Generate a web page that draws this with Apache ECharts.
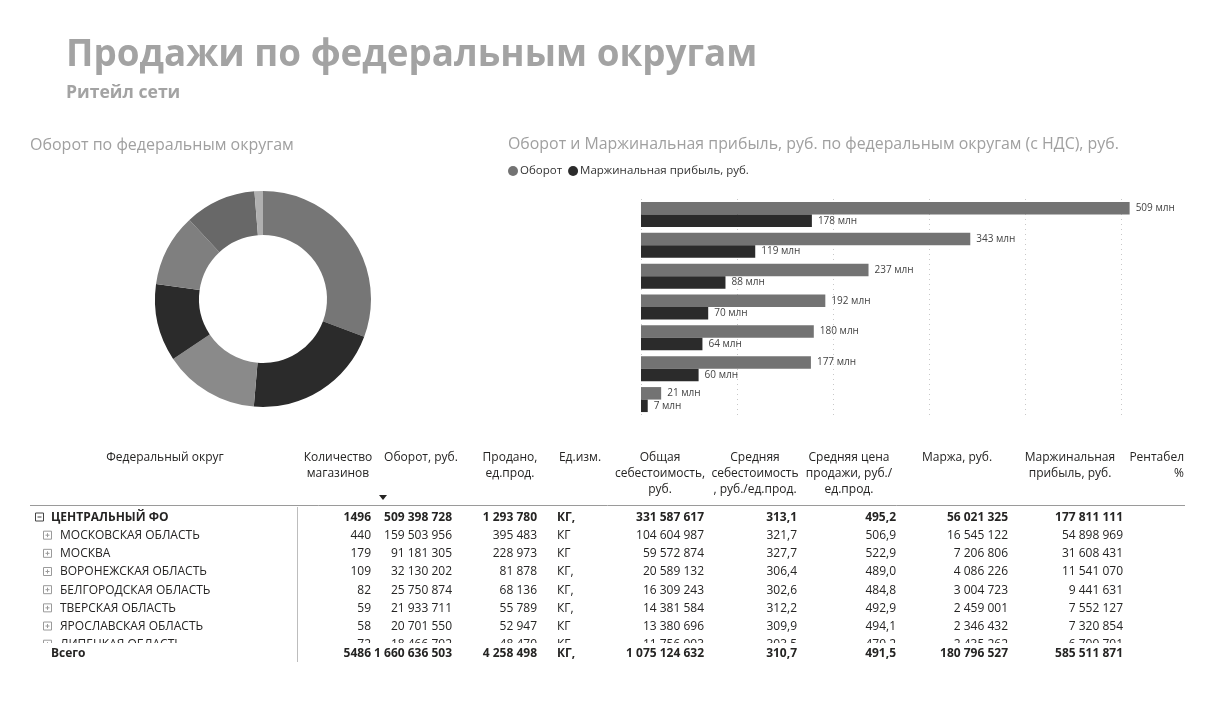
<!DOCTYPE html>
<html><head><meta charset="utf-8">
<script src="https://cdn.jsdelivr.net/npm/echarts@6/dist/echarts.min.js"></script>
<style>html,body{margin:0;padding:0;background:#fff;}#c{width:1221px;height:718px;}</style>
</head><body><div id="c"></div>
<script>
// ---------- data ----------
const districts = ['Центральный ФО','Приволжский ФО','Северо-Западный ФО','Южный ФО','Уральский ФО','Сибирский ФО','Северо-Кавказский ФО'];
const turnoverMln = [509, 343, 237, 192, 180, 177, 21];
const marginMln = [178, 119, 88, 70, 64, 60, 7];
const seriesNames = ['Оборот', 'Маржинальная прибыль, руб.'];
const xTicks = [0, 100, 200, 300, 400, 500];

const tableHeaders = [
  ['Федеральный округ'],
  ['Количество', 'магазинов'],
  ['Оборот, руб.'],
  ['Продано,', 'ед.прод.'],
  ['Ед.изм.'],
  ['Общая', 'себестоимость,', 'руб.'],
  ['Средняя', 'себестоимость', ', руб./ед.прод.'],
  ['Средняя цена', 'продажи, руб./', 'ед.прод.'],
  ['Маржа, руб.'],
  ['Маржинальная', 'прибыль, руб.'],
  ['Рентабел', '%']
];
const rowNames = ['ЦЕНТРАЛЬНЫЙ ФО','МОСКОВСКАЯ ОБЛАСТЬ','МОСКВА','ВОРОНЕЖСКАЯ ОБЛАСТЬ','БЕЛГОРОДСКАЯ ОБЛАСТЬ','ТВЕРСКАЯ ОБЛАСТЬ','ЯРОСЛАВСКАЯ ОБЛАСТЬ','ЛИПЕЦКАЯ ОБЛАСТЬ'];
const storeCounts = [1496, 440, 179, 109, 82, 59, 58, 72];
const turnoverRub = [509398728, 159503956, 91181305, 32130202, 25750874, 21933711, 20701550, 18466792];
const soldUnits = [1293780, 395483, 228973, 81878, 68136, 55789, 52947, 48479];
const unitNames = ['КГ,', 'КГ', 'КГ', 'КГ,', 'КГ,', 'КГ,', 'КГ', 'КГ'];
const totalCost = [331587617, 104604987, 59572874, 20589132, 16309243, 14381584, 13380696, 11756993];
const avgCost = [313.1, 321.7, 327.7, 306.4, 302.6, 312.2, 309.9, 303.5];
const avgPrice = [495.2, 506.9, 522.9, 489.0, 484.8, 492.9, 494.1, 479.2];
const margaRub = [56021325, 16545122, 7206806, 4086226, 3004723, 2459001, 2346432, 2435262];
const marginProfitRub = [177811111, 54898969, 31608431, 11541070, 9441631, 7552127, 7320854, 6709791];
const totalLabel = 'Всего';
const totals = [5486, 1660636503, 4258498, 'КГ,', 1075124632, 310.7, 491.5, 180796527, 585511871];

// ---------- style ----------
const FONT = '"Open Sans", "Noto Sans", sans-serif';
const GRAY = '#737373', DARK = '#2b2b2b';
const pieColors = ['#767676', '#2b2b2b', '#8a8a8a', '#2b2b2b', '#7f7f7f', '#686868', '#b0b0b0'];
const TXT = '#252423';

function fmtInt(n) { return n < 10000 ? String(n) : String(n).replace(/\B(?=(\d{3})+(?!\d))/g, ' '); }
function fmtDec(n) { return n.toFixed(1).replace('.', ','); }

// ---------- table layout ----------
const headerX = [165, 338, 421, 510, 580, 660, 755, 849, 957, 1070, 1184];
const headerAlign = ['center','center','center','center','center','center','center','center','center','center','right'];
const headerY = [458, 474, 490];
const colRight = [371, 452, 537, null, 704, 797, 896, 1008, 1123];
const unitLeft = 557;
const rowY0 = 517.5, rowH = 18.17;

const g = [];
function t(x, y, text, align, bold, z, size) {
  g.push({ type: 'text', x: x, y: y, z: z || 5, silent: true,
    style: { text: text, fill: TXT, font: (bold ? 'bold ' : '') + (size || 12) + 'px ' + FONT,
      textAlign: align, textVerticalAlign: 'middle' } });
}
tableHeaders.forEach((lines, i) => {
  lines.forEach((ln, j) => t(headerX[i], headerY[j], ln, headerAlign[i], false));
});
// sort arrow
g.push({ type: 'polygon', z: 5, silent: true, shape: { points: [[379, 495], [387, 495], [383, 500]] }, style: { fill: '#252423' } });
// header line
g.push({ type: 'line', z: 6, silent: true, shape: { x1: 30, y1: 505.5, x2: 1185, y2: 505.5 }, style: { stroke: '#9a9a9a', lineWidth: 1 } });

function rowCells(i, y, bold, z) {
  t(colRight[0], y, fmtInt(storeCounts[i]), 'right', bold, z);
  t(colRight[1], y, fmtInt(turnoverRub[i]), 'right', bold, z);
  t(colRight[2], y, fmtInt(soldUnits[i]), 'right', bold, z);
  t(unitLeft, y, unitNames[i], 'left', bold, z);
  t(colRight[4], y, fmtInt(totalCost[i]), 'right', bold, z);
  t(colRight[5], y, fmtDec(avgCost[i]), 'right', bold, z);
  t(colRight[6], y, fmtDec(avgPrice[i]), 'right', bold, z);
  t(colRight[7], y, fmtInt(margaRub[i]), 'right', bold, z);
  t(colRight[8], y, fmtInt(marginProfitRub[i]), 'right', bold, z);
}
function expander(x, y, minus, z) {
  const c = minus ? '#444' : '#9a9a9a';
  g.push({ type: 'rect', z: z, silent: true, shape: { x: x + 0.5, y: y - 4.5, width: 8, height: 8 }, style: { fill: 'none', stroke: c, lineWidth: 1 } });
  g.push({ type: 'line', z: z, silent: true, shape: { x1: x + 2.5, y1: y - 0.5, x2: x + 6.5, y2: y - 0.5 }, style: { stroke: c, lineWidth: 1 } });
  if (!minus) g.push({ type: 'line', z: z, silent: true, shape: { x1: x + 4.5, y1: y - 2.5, x2: x + 4.5, y2: y + 1.5 }, style: { stroke: c, lineWidth: 1 } });
}
rowNames.forEach((name, i) => {
  const y = rowY0 + i * rowH;
  if (i === 0) { expander(35, y, true, 5); t(51, y, name, 'left', true); }
  else { expander(43, y, false, 5); t(60, y, name, 'left', false); }
  rowCells(i, y, i === 0, 5);
});
// clip of scrolled body + totals row
g.push({ type: 'rect', z: 10, silent: true, shape: { x: 20, y: 643, width: 1180, height: 25 }, style: { fill: '#fff' } });
const ty = 654;
t(51, ty, totalLabel, 'left', true, 11);
totals.forEach((v, k) => {
  if (typeof v === 'string') { t(unitLeft, ty, v, 'left', true, 11); return; }
  const s = (k === 5 || k === 6) ? fmtDec(v) : fmtInt(v);
  t(colRight[k], ty, s, 'right', true, 11);
});
g.push({ type: 'line', z: 12, silent: true, shape: { x1: 297.5, y1: 507, x2: 297.5, y2: 662 }, style: { stroke: '#bdbdbd', lineWidth: 1 } });

// ---------- chart ----------
const chart = echarts.init(document.getElementById('c'));
chart.setOption({
  animation: false,
  backgroundColor: '#fff',
  title: [
    { text: 'Продажи по федеральным округам', left: 66, top: 37, padding: 0,
      textStyle: { fontFamily: FONT, fontSize: 36.8, fontWeight: 'bold', color: '#a3a3a3' } },
    { text: 'Ритейл сети', left: 66, top: 84, padding: 0,
      textStyle: { fontFamily: FONT, fontSize: 17.6, fontWeight: 'bold', color: '#a3a3a3' } },
    { text: 'Оборот по федеральным округам', left: 30, top: 137, padding: 0,
      textStyle: { fontFamily: FONT, fontSize: 16, fontWeight: 'normal', color: '#a0a0a0' } },
    { text: 'Оборот и Маржинальная прибыль, руб. по федеральным округам (с НДС), руб.', left: 508, top: 136, padding: 0,
      textStyle: { fontFamily: FONT, fontSize: 15.9, fontWeight: 'normal', color: '#a0a0a0' } }
  ],
  legend: {
    data: seriesNames, left: 508, top: 165, padding: 0, icon: 'circle',
    itemWidth: 10, itemHeight: 10, itemGap: 6,
    textStyle: { fontFamily: FONT, fontSize: 11.5, color: '#333', padding: [0, 0, 0, -3] }
  },
  grid: { left: 641, top: 199, width: 480, height: 216, containLabel: false },
  xAxis: {
    type: 'value', min: 0, max: 500, interval: 100, data: xTicks,
    axisLine: { show: false }, axisTick: { show: false }, axisLabel: { show: false },
    splitLine: { show: true, showMinLine: true, showMaxLine: true, lineStyle: { color: '#c8c8c8', type: [1, 4], width: 1 } }
  },
  yAxis: {
    type: 'category', data: districts, inverse: true,
    axisLine: { show: false }, axisTick: { show: false }, axisLabel: { show: false }, splitLine: { show: false }
  },
  series: [
    { name: seriesNames[0], type: 'bar', data: turnoverMln, clip: false, barGap: '0%', barCategoryGap: '19%',
      itemStyle: { color: GRAY },
      label: { show: true, position: 'right', distance: 6, formatter: p => p.value + ' млн', fontFamily: FONT, fontSize: 10, color: '#444' } },
    { name: seriesNames[1], type: 'bar', data: marginMln, clip: false, barGap: '0%', barCategoryGap: '19%',
      itemStyle: { color: DARK },
      label: { show: true, position: 'right', distance: 6, formatter: p => p.value + ' млн', fontFamily: FONT, fontSize: 10, color: '#444' } },
    { name: 'Оборот по округам', type: 'pie', center: [263, 299], radius: [64, 108], startAngle: 90, clockwise: true,
      label: { show: false }, labelLine: { show: false }, silent: true,
      itemStyle: { borderWidth: 0 },
      data: districts.map((d, i) => ({ name: d, value: turnoverMln[i], itemStyle: { color: pieColors[i] } })) }
  ],
  graphic: { elements: g }
});
</script></body></html>
